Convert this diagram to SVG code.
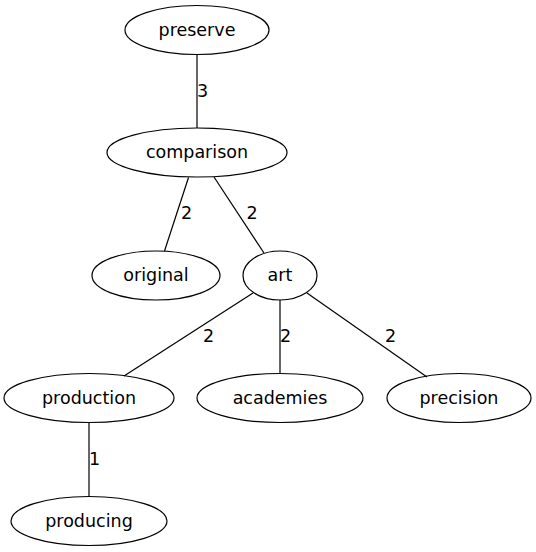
<svg xmlns="http://www.w3.org/2000/svg" width="536" height="552" viewBox="0 0 536 552">
<style>
.n ellipse{fill:none;stroke:#000;stroke-width:1.2}
text{font-family:"DejaVu Sans",sans-serif;font-size:17.5px;fill:#000;text-anchor:middle}
.e line{stroke:#000;stroke-width:1.2}
</style>
<rect width="536" height="552" fill="#fff"/>
<g class="e">
<line x1="197" y1="55" x2="197" y2="128"/>
<line x1="188.5" y1="177.5" x2="164.5" y2="251"/>
<line x1="214" y1="177" x2="264" y2="253"/>
<line x1="253" y1="293" x2="124" y2="376"/>
<line x1="280" y1="300" x2="280" y2="373.5"/>
<line x1="307" y1="293" x2="427" y2="377"/>
<line x1="89" y1="422.5" x2="89" y2="496"/>
<text x="202.5" y="96.5">3</text>
<text x="186.5" y="219">2</text>
<text x="252" y="219">2</text>
<text x="208.5" y="341.5">2</text>
<text x="285.5" y="341.5">2</text>
<text x="390.5" y="341.5">2</text>
<text x="94.5" y="465">1</text>
</g>
<g id="preserve" class="n"><ellipse cx="197" cy="30" rx="72" ry="24.5"/><text x="197" y="35.5">preserve</text></g>
<g id="comparison" class="n"><ellipse cx="197" cy="152.5" rx="90" ry="24.5"/><text x="197" y="158">comparison</text></g>
<g id="original" class="n"><ellipse cx="156" cy="275.5" rx="64" ry="24.5"/><text x="156" y="281">original</text></g>
<g id="art" class="n"><ellipse cx="280" cy="275.5" rx="37" ry="24.5"/><text x="280" y="281">art</text></g>
<g id="production" class="n"><ellipse cx="89" cy="398" rx="85" ry="24.5"/><text x="89" y="403.5">production</text></g>
<g id="academies" class="n"><ellipse cx="280" cy="398" rx="83" ry="24.5"/><text x="280" y="403.5">academies</text></g>
<g id="precision" class="n"><ellipse cx="459" cy="398" rx="72" ry="24.5"/><text x="459" y="403.5">precision</text></g>
<g id="producing" class="n"><ellipse cx="89" cy="521" rx="78" ry="24.5"/><text x="89" y="526.5">producing</text></g>
</svg>
